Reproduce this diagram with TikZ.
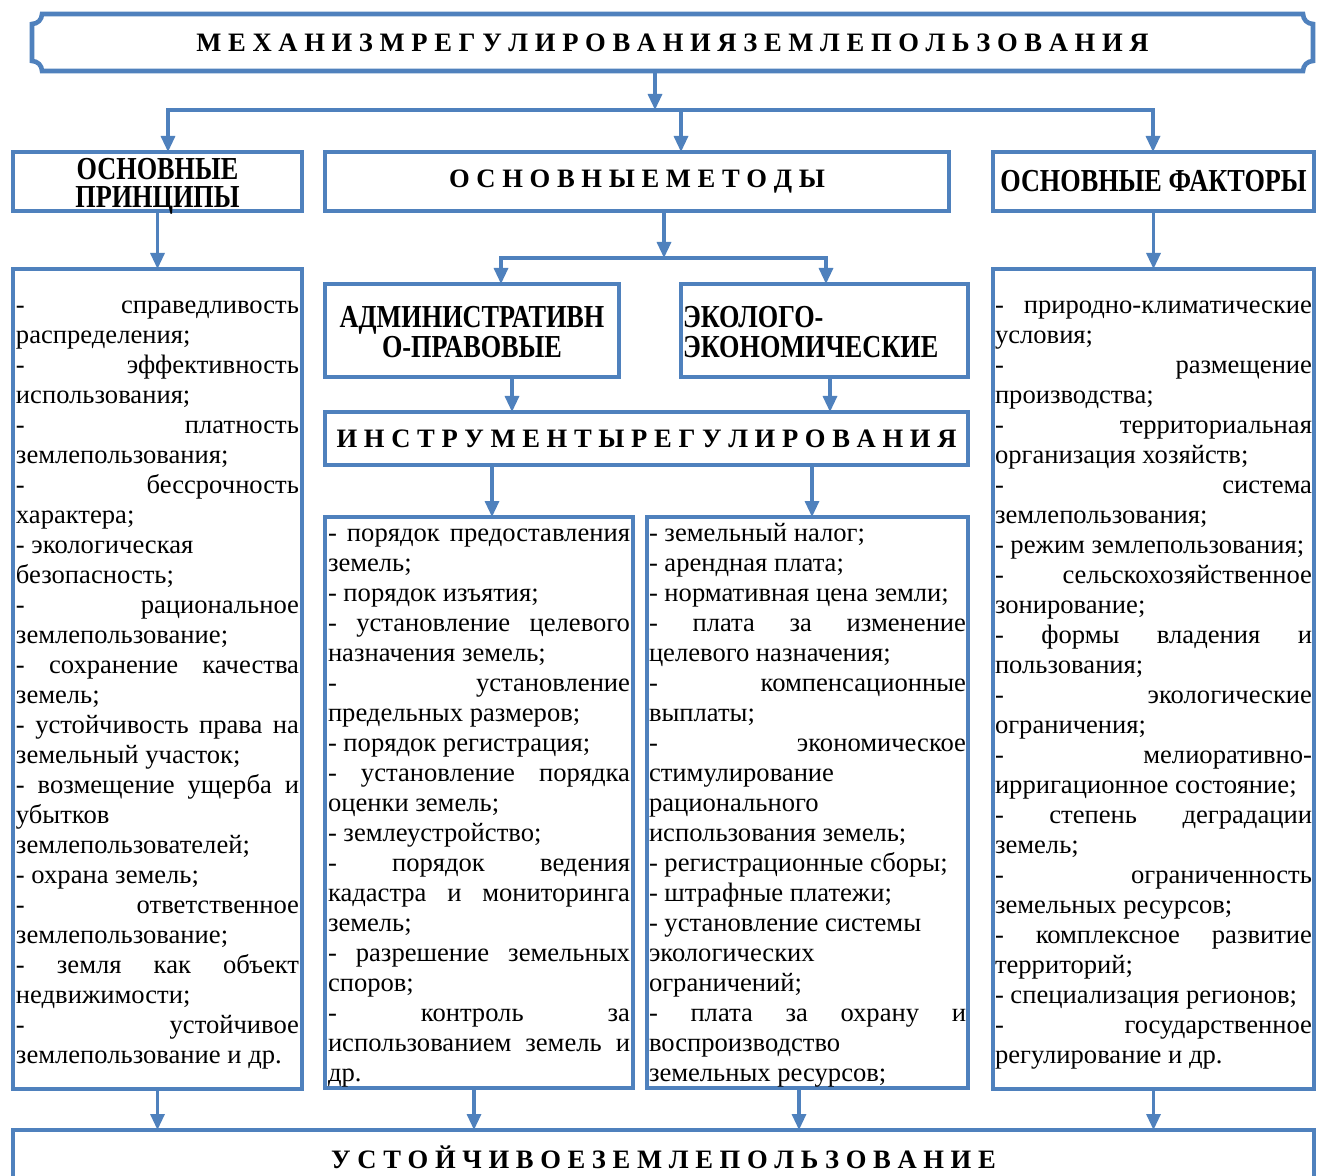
\documentclass[tikz,border=0pt]{standalone}
\usepackage{fontspec}
\setmainfont{Liberation Serif}
\newfontfamily\headfont[FakeStretch=0.82]{Liberation Serif}
\usetikzlibrary{arrows.meta}

\definecolor{boxblue}{RGB}{79,129,189}
\newdimen\pxu \pxu=0.5pt
% one line of a column: justified (jrow) or flush left (lrow)
\newcommand{\rowstrut}{\rule[-3pt]{0pt}{15pt}}
\newcommand{\jrow}[1]{\hbox to\hsize{\rowstrut#1}}
\newcommand{\lrow}[1]{\hbox to\hsize{\rowstrut#1\hfil}}
\newcommand{\rows}[2]{\vbox{\hsize=#1\relax #2}}

\tikzset{
  blk/.style={draw=boxblue, line width=2.3pt, inner sep=0pt, outer sep=0pt, anchor=north west},
  arr/.style={draw=boxblue, line width=1.6pt, -{Triangle[length=8pt,width=7pt]}},
  spaced/.style={font=\bfseries\fontsize{13.3}{16}\selectfont},
  head/.style={font=\headfont\bfseries\fontsize{16}{14}\selectfont, align=center},
  listtext/.style={font=\fontsize{13.3}{15}\selectfont},
}

\begin{document}
\begin{tikzpicture}[x=0.5pt, y=-0.5pt]
\path[use as bounding box, fill=white] (0,0) rectangle (1317,1176);

% title plaque
\node[anchor=north west, minimum width=1281\pxu, minimum height=57\pxu, inner sep=0pt, outer sep=0pt, spaced] (mech) at (32,14)
  {М Е Х А Н И З М Р Е Г У Л И Р О В А Н И Я З Е М Л Е П О Л Ь З О В А Н И Я};
\draw[boxblue, line width=2.3pt]
  ([xshift=10\pxu]mech.north west) -- ([xshift=-10\pxu]mech.north east)
  arc[start angle=180, end angle=90, radius=10]
  -- ([yshift=10\pxu]mech.south east)
  arc[start angle=270, end angle=180, radius=10]
  -- ([xshift=10\pxu]mech.south west)
  arc[start angle=0, end angle=-90, radius=10]
  -- ([yshift=-10\pxu]mech.north west)
  arc[start angle=90, end angle=0, radius=10] -- cycle;

% second row
\node[blk, minimum width=289\pxu, minimum height=59\pxu] (princ) at (13,152) {};
\node[head] (princtxt) at ([yshift=-2.5pt]princ.center) {ОСНОВНЫЕ\\ПРИНЦИПЫ};
\node[blk, spaced, minimum width=624\pxu, minimum height=59\pxu] (meth) at (325,152) {О С Н О В Н Ы Е М Е Т О Д Ы};
\node[blk, head, minimum width=321\pxu, minimum height=59\pxu] (fact) at (993,152) {ОСНОВНЫЕ ФАКТОРЫ};

% methods
\node[blk, head, font=\headfont\bfseries\fontsize{16}{15}\selectfont, minimum width=294\pxu, minimum height=93\pxu] (adm) at (325,284) {\rule{0pt}{12pt}АДМИНИСТРАТИВН\\О-ПРАВОВЫЕ};
\node[blk, head, font=\headfont\bfseries\fontsize{16}{15}\selectfont, align=left, text width=283\pxu, minimum width=287\pxu, minimum height=93\pxu] (eco) at (681,284) {\rule{0pt}{12pt}ЭКОЛОГО-\\ЭКОНОМИЧЕСКИЕ};
\node[blk, spaced, minimum width=643\pxu, minimum height=53\pxu] (instr) at (325,412) {И Н С Т Р У М Е Н Т Ы Р Е Г У Л И Р О В А Н И Я};

% columns
\node[blk, listtext, minimum width=289\pxu, minimum height=820\pxu] (left) at (13,269) {\rows{283\pxu}{%
  \jrow{- справедливость}
  \lrow{распределения;}
  \jrow{- эффективность}
  \lrow{использования;}
  \jrow{- платность}
  \lrow{землепользования;}
  \jrow{- бессрочность}
  \lrow{характера;}
  \lrow{- экологическая}
  \lrow{безопасность;}
  \jrow{- рациональное}
  \lrow{землепользование;}
  \jrow{- сохранение качества}
  \lrow{земель;}
  \jrow{- устойчивость права на}
  \lrow{земельный участок;}
  \jrow{- возмещение ущерба и}
  \lrow{убытков}
  \lrow{землепользователей;}
  \lrow{- охрана земель;}
  \jrow{- ответственное}
  \lrow{землепользование;}
  \jrow{- земля как объект}
  \lrow{недвижимости;}
  \jrow{- устойчивое}
  \lrow{землепользование и др.}}};

\node[blk, listtext, minimum width=308\pxu, minimum height=571\pxu] (admtools) at (325,517) {\rows{302\pxu}{%
  \jrow{- порядок предоставления}
  \lrow{земель;}
  \lrow{- порядок изъятия;}
  \jrow{- установление целевого}
  \lrow{назначения земель;}
  \jrow{- установление}
  \lrow{предельных размеров;}
  \lrow{- порядок регистрация;}
  \jrow{- установление порядка}
  \lrow{оценки земель;}
  \lrow{- землеустройство;}
  \jrow{- порядок ведения}
  \jrow{кадастра и мониторинга}
  \lrow{земель;}
  \jrow{- разрешение земельных}
  \lrow{споров;}
  \jrow{- контроль за}
  \jrow{использованием земель и}
  \lrow{др.}}};

\node[blk, listtext, minimum width=321\pxu, minimum height=571\pxu] (ecotools) at (647,517) {\rows{317\pxu}{%
  \lrow{- земельный налог;}
  \lrow{- арендная плата;}
  \lrow{- нормативная цена земли;}
  \jrow{- плата за изменение}
  \lrow{целевого назначения;}
  \jrow{- компенсационные}
  \lrow{выплаты;}
  \jrow{- экономическое}
  \lrow{стимулирование}
  \lrow{рационального}
  \lrow{использования земель;}
  \lrow{- регистрационные сборы;}
  \lrow{- штрафные платежи;}
  \lrow{- установление системы}
  \lrow{экологических}
  \lrow{ограничений;}
  \jrow{- плата за охрану и}
  \lrow{воспроизводство}
  \lrow{земельных ресурсов;}}};

\node[blk, listtext, minimum width=321\pxu, minimum height=820\pxu] (right) at (993,269) {\rows{317\pxu}{%
  \jrow{- природно-климатические}
  \lrow{условия;}
  \jrow{- размещение}
  \lrow{производства;}
  \jrow{- территориальная}
  \lrow{организация хозяйств;}
  \jrow{- система}
  \lrow{землепользования;}
  \lrow{- режим землепользования;}
  \jrow{- сельскохозяйственное}
  \lrow{зонирование;}
  \jrow{- формы владения и}
  \lrow{пользования;}
  \jrow{- экологические}
  \lrow{ограничения;}
  \jrow{- мелиоративно-}
  \lrow{ирригационное состояние;}
  \jrow{- степень деградации}
  \lrow{земель;}
  \jrow{- ограниченность}
  \lrow{земельных ресурсов;}
  \jrow{- комплексное развитие}
  \lrow{территорий;}
  \lrow{- специализация регионов;}
  \jrow{- государственное}
  \lrow{регулирование и др.}}};

% result
\node[blk, spaced, minimum width=1301\pxu, minimum height=55\pxu] (sust) at (13,1130) {У С Т О Й Ч И В О Е З Е М Л Е П О Л Ь З О В А Н И Е};

% connectors
\coordinate (hub) at (655,110);
\coordinate (hubL) at (168,110);
\coordinate (hubM) at (681,110);
\coordinate (hubR) at (1153,110);
\draw[arr] (hub |- mech.south) -- (hub);
\draw[arr] (hubM) -| (hubL |- princ.north);
\draw[arr] (hubM) -| (hubR |- fact.north);
\draw[arr] (hubM) -- (hubM |- meth.north);

\coordinate (sub) at (664,258);
\coordinate (subL) at (501,258);
\coordinate (subR) at (826,258);
\draw[arr] (sub |- meth.south) -- (sub);
\draw[arr] (sub) -| (subL |- adm.north);
\draw[arr] (sub) -| (subR |- eco.north);

\coordinate (ka) at (512,0);
\coordinate (ke) at (830,0);
\draw[arr] (ka |- adm.south) -- (ka |- instr.north);
\draw[arr] (ke |- eco.south) -- (ke |- instr.north);

\coordinate (ta) at (492,0);
\coordinate (te) at (812,0);
\draw[arr] (ta |- instr.south) -- (ta |- admtools.north);
\draw[arr] (te |- instr.south) -- (te |- ecotools.north);

\draw[arr] (princ.south) -- (left.north);
\draw[arr] (fact.south) -- (right.north);

\coordinate (ra) at (474,0);
\coordinate (re) at (799,0);
\draw[arr] (left.south) -- (left.south |- sust.north);
\draw[arr] (ra |- admtools.south) -- (ra |- sust.north);
\draw[arr] (re |- ecotools.south) -- (re |- sust.north);
\draw[arr] (right.south) -- (right.south |- sust.north);
\end{tikzpicture}
\end{document}
